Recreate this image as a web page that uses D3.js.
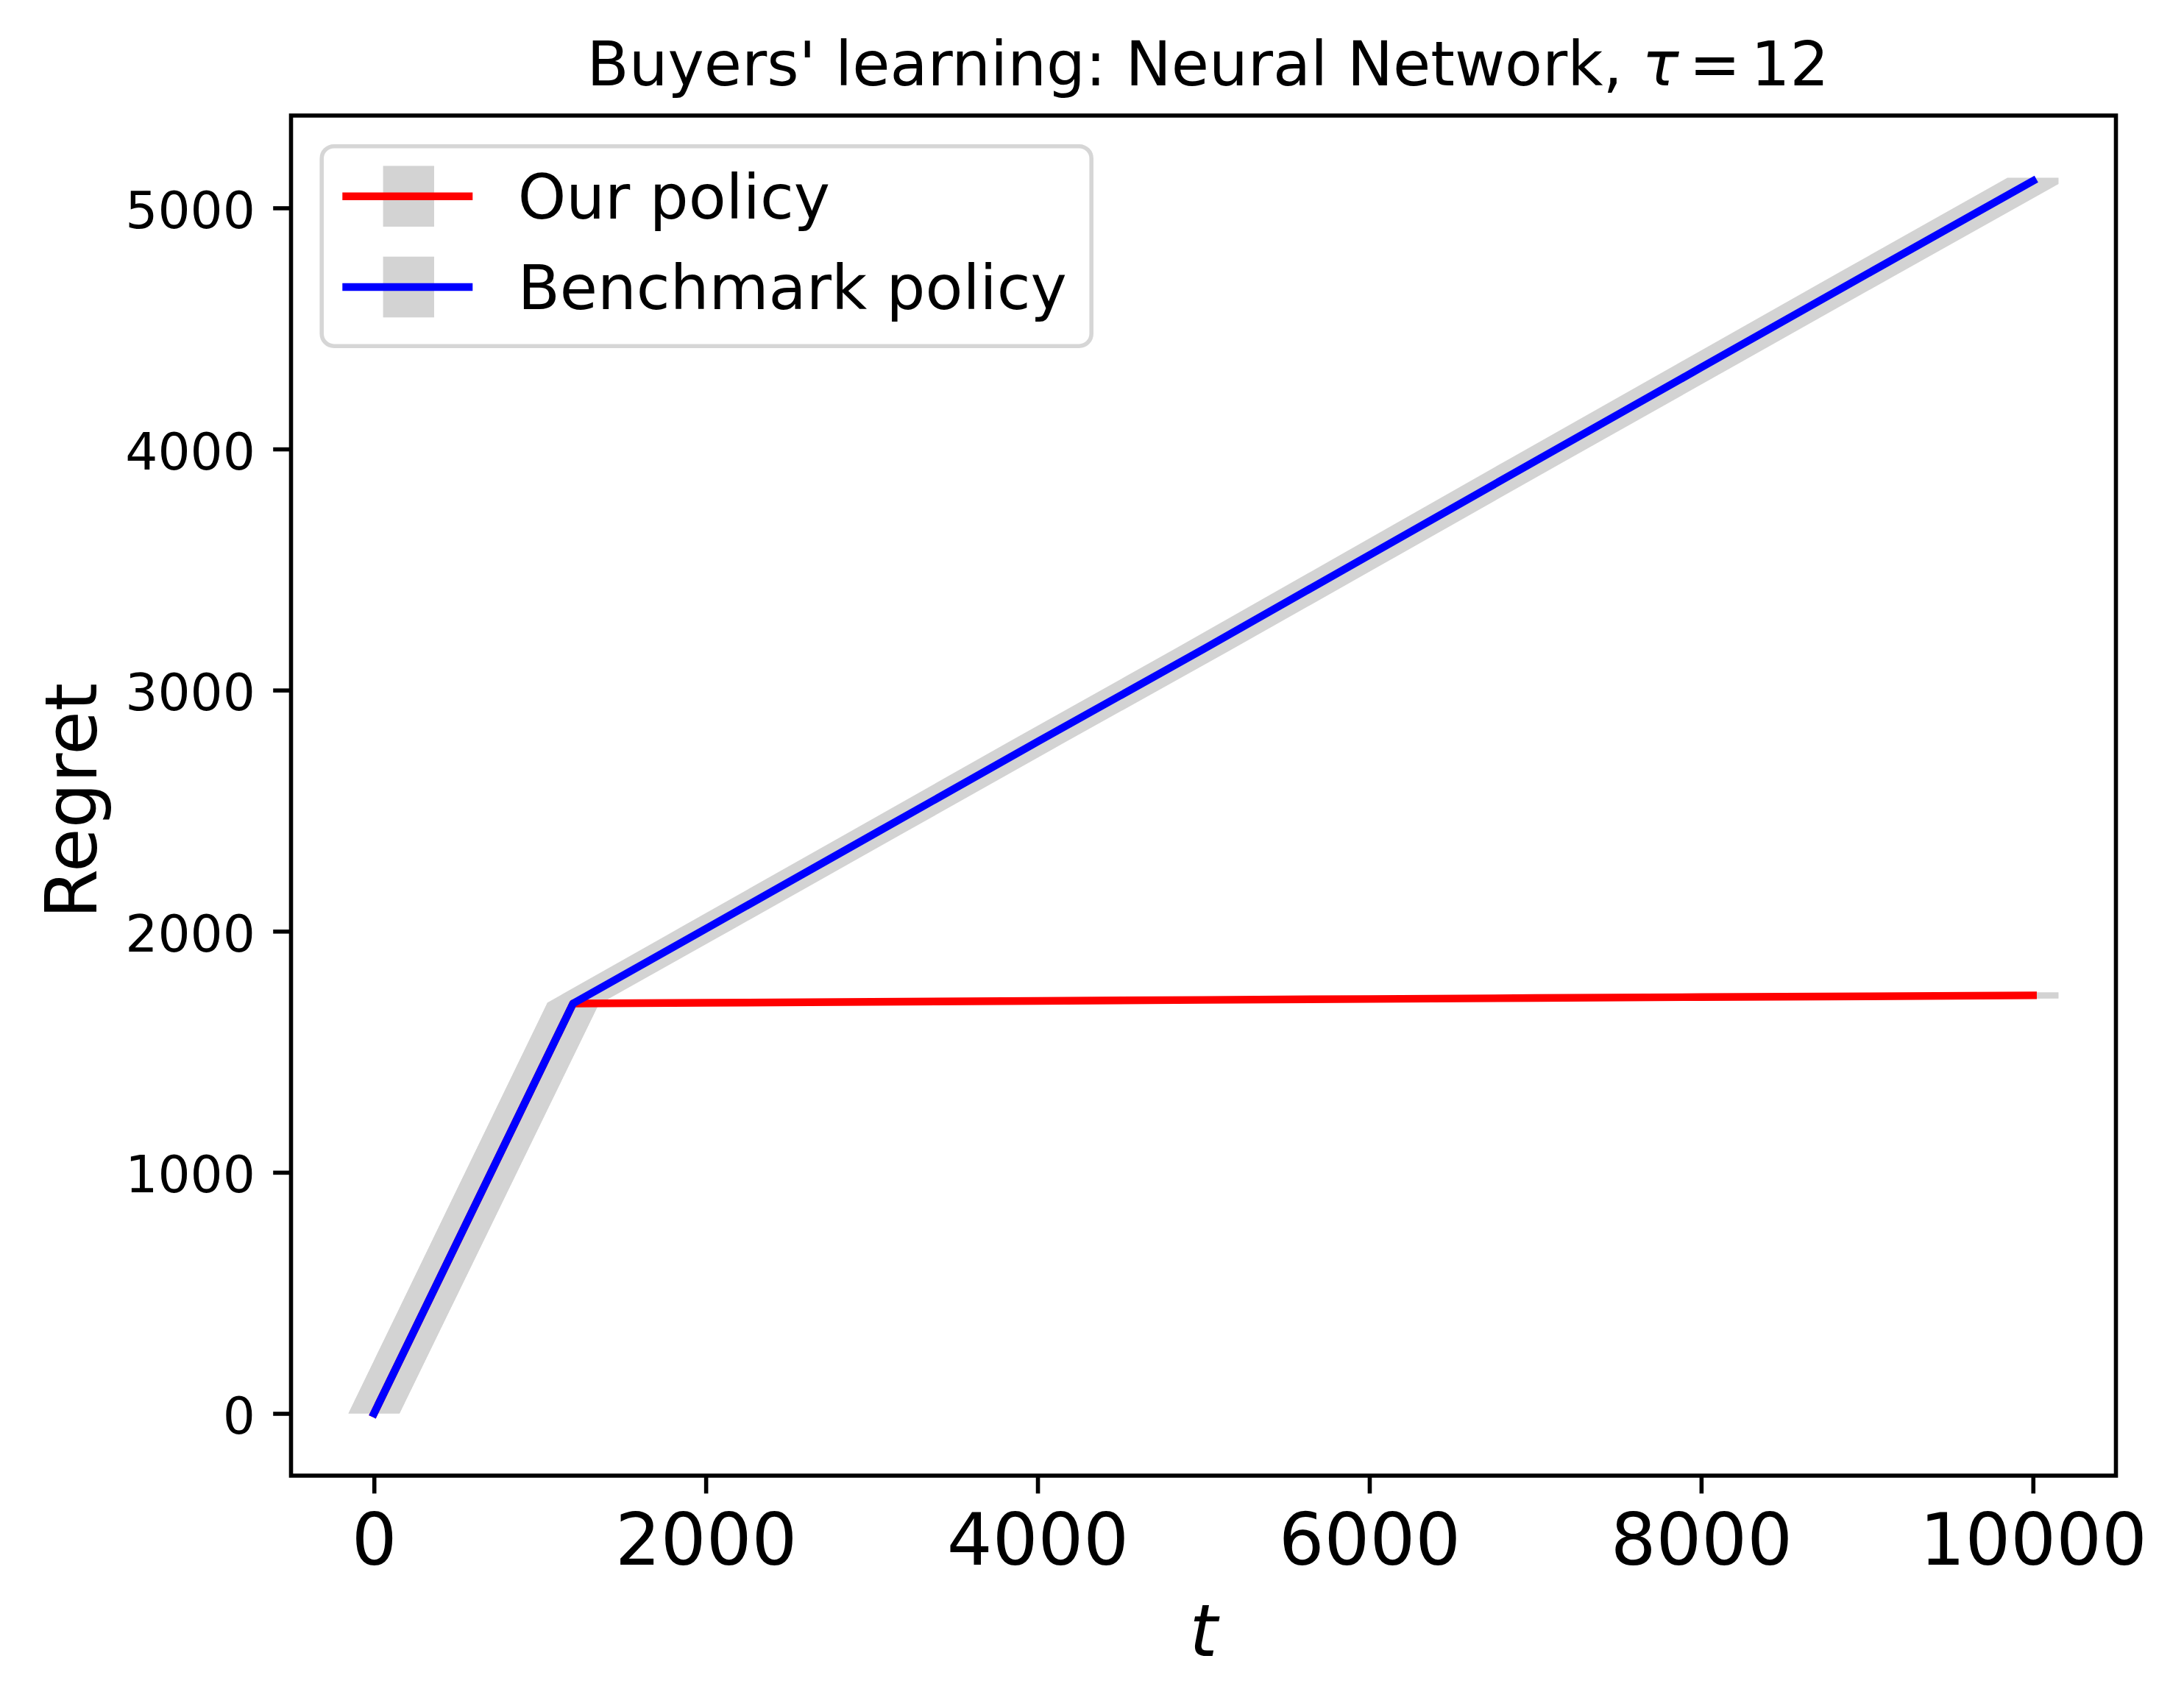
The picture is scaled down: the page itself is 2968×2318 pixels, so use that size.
<!DOCTYPE html>
<html>
<head>
<meta charset="utf-8">
<script src="https://cdn.jsdelivr.net/npm/d3@7"></script>
<style>
  html, body { margin: 0; padding: 0; background: #ffffff; }
  svg { display: block; }
  text { font-family: "DejaVu Sans", sans-serif; fill: #000; }
</style>
</head>
<body>
<svg id="chart" width="2968" height="2318"></svg>
<script>
// ---------------- data ----------------
const rounds = [0, 300, 600, 900, 1200, 2000, 3000, 4000, 5000, 6000, 7000, 8000, 9000, 10000];
const benchmarkRegret = [0, 425, 850, 1275, 1700, 2010, 2398, 2786, 3170, 3560, 3950, 4338, 4726, 5112];
const benchmarkStd    = [0, 1, 2, 3, 4, 5, 6, 7, 8, 9, 10, 11, 12, 13];
const ourRegret       = [0, 425, 850, 1275, 1700, 1703, 1707, 1711, 1715, 1719, 1723, 1727, 1730, 1734];
const ourStd          = [0, 1, 2, 3, 4, 5, 6, 7, 8, 9, 10, 11, 12, 13];
const seriesNames = ["Our policy", "Benchmark policy"];
const seriesColors = ["#ff0000", "#0000ff"];
const xTicks = [0, 2000, 4000, 6000, 8000, 10000];
const yTicks = [0, 1000, 2000, 3000, 4000, 5000];
const titleMain = "Buyers' learning: Neural Network, ";
const titleSym = "\u03c4";
const titleEq = "=";
const titleNum = "12";
const xLabel = "t";
const yLabel = "Regret";

// ---------------- layout ----------------
const svg = d3.select("#chart");
const axL = 395.5, axR = 2875.5, axT = 157, axB = 2005;
const x = d3.scaleLinear().domain([-500, 10500]).range([axL, axR]);
const y = d3.scaleLinear().domain([-258, 5383]).range([axB, axT]);

const lw = 10.4;         // 1.5pt line
const spineW = 5.6;      // 0.8pt
const tickLen = 24.3, tickPad = 24.3;
const barHalf = 34.7;    // half width of the grey error bars (pixels)

// ---------------- grey error bands ----------------
function bandPath(ts, vs, es) {
  const n = ts.length;
  const pts = [];
  pts.push([x(ts[0]) - barHalf, y(vs[0] - es[0])]);
  for (let i = 0; i < n; i++) pts.push([x(ts[i]) - barHalf, y(vs[i] + es[i])]);
  pts.push([x(ts[n - 1]) + barHalf, y(vs[n - 1] + es[n - 1])]);
  for (let i = n - 1; i >= 0; i--) pts.push([x(ts[i]) + barHalf, y(vs[i] - es[i])]);
  return d3.line()(pts) + "Z";
}
const bands = svg.append("g");
bands.append("path").attr("d", bandPath(rounds, ourRegret, ourStd)).attr("fill", "#d3d3d3");
bands.append("path").attr("d", bandPath(rounds, benchmarkRegret, benchmarkStd)).attr("fill", "#d3d3d3");

// ---------------- lines ----------------
const line = d3.line().x(d => x(d[0])).y(d => y(d[1]));
const seriesData = [
  rounds.map((t, i) => [t, ourRegret[i]]),
  rounds.map((t, i) => [t, benchmarkRegret[i]])
];
svg.append("g").selectAll("path").data(seriesData).join("path")
  .attr("d", d => line(d))
  .attr("fill", "none")
  .attr("stroke", (d, i) => seriesColors[i])
  .attr("stroke-width", lw)
  .attr("stroke-linejoin", "round")
  .attr("stroke-linecap", "square");

// ---------------- axes ----------------
const xAxis = svg.append("g").attr("transform", `translate(0,${axB})`)
  .call(d3.axisBottom(x).tickValues(xTicks).tickSize(tickLen).tickPadding(tickPad).tickFormat(d3.format("d")));
xAxis.select(".domain").remove();
xAxis.selectAll(".tick line").attr("stroke", "#000").attr("stroke-width", spineW);
xAxis.selectAll(".tick text").attr("dy", null).attr("y", 121)
  .style("font-size", "97.2px").style("font-family", "DejaVu Sans").attr("fill", "#000");

const yAxis = svg.append("g").attr("transform", `translate(${axL},0)`)
  .call(d3.axisLeft(y).tickValues(yTicks).tickSize(tickLen).tickPadding(tickPad).tickFormat(d3.format("d")));
yAxis.select(".domain").remove();
yAxis.selectAll(".tick line").attr("stroke", "#000").attr("stroke-width", spineW);
yAxis.selectAll(".tick text").attr("dy", null).attr("y", 27)
  .style("font-size", "69.4px").style("font-family", "DejaVu Sans").attr("fill", "#000");

// frame (spines)
svg.append("rect").attr("x", axL).attr("y", axT)
  .attr("width", axR - axL).attr("height", axB - axT)
  .attr("fill", "none").attr("stroke", "#000").attr("stroke-width", spineW)
  .attr("stroke-linejoin", "miter");

// ---------------- labels ----------------
const title = svg.append("text").attr("x", (axL + axR) / 2 + 6).attr("y", 115.5)
  .attr("text-anchor", "middle").style("font-size", "83.3px");
title.append("tspan").text(titleMain);
title.append("tspan").text(titleSym).style("font-style", "italic");
title.append("tspan").attr("dx", 14).text(titleEq);
title.append("tspan").attr("dx", 14).text(titleNum);

svg.append("text").attr("x", (axL + axR) / 2).attr("y", 2250)
  .attr("text-anchor", "middle").style("font-size", "97.2px").style("font-style", "italic")
  .text(xLabel);

svg.append("text").attr("transform", "translate(130.7,1088) rotate(-90)")
  .attr("text-anchor", "middle").style("font-size", "97.2px")
  .text(yLabel);

// ---------------- legend ----------------
const legend = svg.append("g");
legend.append("rect").attr("x", 437.2).attr("y", 198.7).attr("width", 1046).attr("height", 271.5)
  .attr("rx", 16.7).attr("ry", 16.7)
  .attr("fill", "#ffffff").attr("fill-opacity", 0.8)
  .attr("stroke", "#cccccc").attr("stroke-opacity", 0.8).attr("stroke-width", spineW);
const rowY = [266.7, 390];
const rows = legend.selectAll("g.row").data(seriesNames).join("g").attr("class", "row")
  .attr("transform", (d, i) => `translate(0,${rowY[i]})`);
rows.append("rect").attr("x", 555.3 - barHalf).attr("y", -41.3).attr("width", 2 * barHalf).attr("height", 82.6)
  .attr("fill", "#d3d3d3");
rows.append("line").attr("x1", 470.5).attr("x2", 637.1).attr("y1", 0).attr("y2", 0)
  .attr("stroke", (d, i) => seriesColors[i]).attr("stroke-width", lw).attr("stroke-linecap", "square");
rows.append("text").attr("x", 703.7).attr("y", 30).style("font-size", "83.3px").text(d => d);
</script>
</body>
</html>
